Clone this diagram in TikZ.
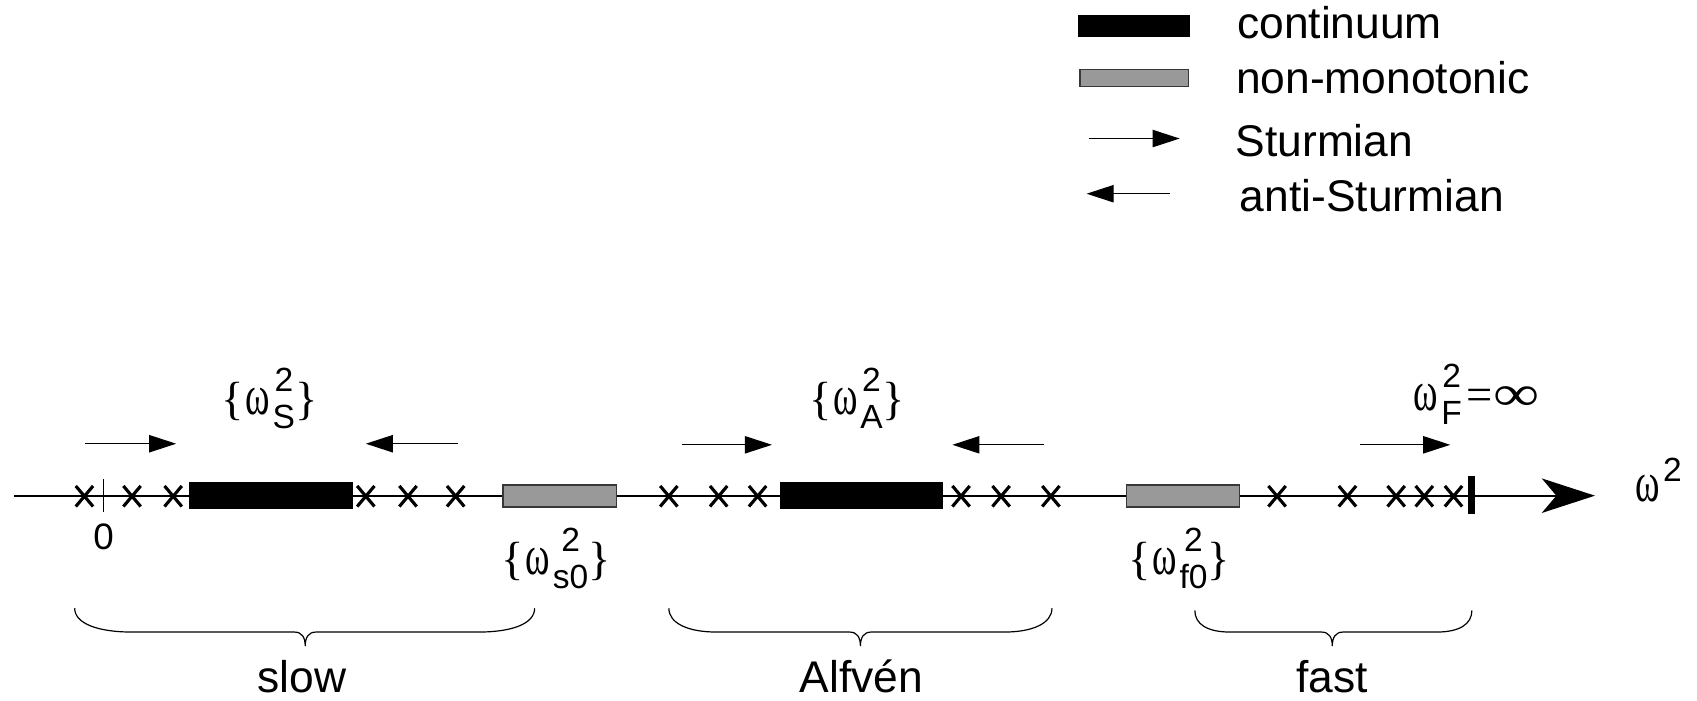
\documentclass[tikz,border=0pt]{standalone}
\usepackage{graphicx}
\usepackage{fontspec}
\setmainfont{Liberation Sans}
\newfontfamily\symf{Liberation Serif}
\usetikzlibrary{arrows.meta}
\newdimen\stkw
\newcommand{\scr}{\fontsize{31}{31}\selectfont}
\newcommand{\om}{\scalebox{0.66}[1]{\fontsize{52}{52}\selectfont\symf ω}}
\newcommand{\stk}[2]{\setbox0=\hbox{\scr #1}\setbox2=\hbox{\scr #2}%
\ifdim\wd0>\wd2 \stkw=\wd0 \else \stkw=\wd2 \fi
\hbox to \stkw{\rlap{\hbox to \stkw{\hss\raise21pt\box0\hss}}\hbox to \stkw{\hss\lower13pt\box2\hss}}}
\newcommand{\lb}{{\fontsize{43}{43}\selectfont\symf\{}}
\newcommand{\rb}{{\fontsize{43}{43}\selectfont\symf\}}}
\newcommand{\brl}[1]{\lb\kern1.5pt\om\kern2.5pt#1\rb}
\tikzset{
  txt/.style={font=\fontsize{41}{49}\selectfont, inner sep=0pt},
  lab/.style={inner sep=0pt, anchor=base},
  axisline/.style={line width=2pt},
  cross/.style={line width=2.9pt},
  cont/.style={fill=black, draw=black, line width=1pt},
  nonmono/.style={fill=black!40, draw=black!78, line width=1.3pt},
  sarrow/.style={line width=1.1pt, -{Triangle[length=25pt,width=16pt]}},
  bracel/.style={line width=1.1pt},
}
\begin{document}
\begin{tikzpicture}[x=1pt,y=-1pt]
\useasboundingbox (0,0) rectangle (1568,647);

% legend
\draw[cont] (997,14) rectangle (1099,34);
\draw[nonmono] (998,64) rectangle (1098,80);
\coordinate (ls1) at (1006,128); \coordinate (ls2) at (1090,128);
\coordinate (la1) at (1081,179); \coordinate (la2) at (1004,179);
\draw[sarrow] (ls1) -- (ls2);
\draw[sarrow] (la1) -- (la2);
\node[txt, anchor=base west] (tcont) at (1143,36) {continuum};
\node[txt, anchor=base west] (tnon) at (1142,86) {non-monotonic};
\node[txt, anchor=base west] (tstu) at (1141.5,145) {Sturmian};
\node[txt, anchor=base west] (tanti) at (1145.5,195) {anti-Sturmian};

% axis
\coordinate (ax0) at (13,458); \coordinate (ax1) at (1440,458);
\draw[axisline] (ax0) -- (ax1);
\fill (1473.7,458) -- (1424.5,442) -- (1438,458) -- (1424.5,474) -- cycle;
\draw[line width=1.5pt] (95.8,443) -- (95.8,473);
\fill (1356,440) rectangle (1362.5,475);

% crosses
\foreach \x in {78,122,160,338,377,421,618,664,700,888,925,971,1180,1245,1290,1316,1343}
  \draw[cross] (\x-8,449) -- (\x+8,468) (\x-8,468) -- (\x+8,449);

% bars
\draw[cont] (175.5,446) rectangle (326,470);
\draw[cont] (721,446) rectangle (871,470);
\draw[nonmono] (464.6,448) rectangle (569.6,468.5);
\draw[nonmono] (1041,448) rectangle (1145.5,468.5);

% direction arrows
\coordinate (a1s) at (78.5,410); \coordinate (a1e) at (162.8,410);
\coordinate (a2s) at (423,410); \coordinate (a2e) at (338,410);
\coordinate (a3s) at (629.7,411); \coordinate (a3e) at (713.3,411);
\coordinate (a4s) at (965,411); \coordinate (a4e) at (880,411);
\coordinate (a5s) at (1256.6,411); \coordinate (a5e) at (1340,411);
\foreach \i in {1,...,5} \draw[sarrow] (a\i s) -- (a\i e);

% labels
\node[lab] (ls) at (249,383) {\brl{\stk{2}{S}}};
\node[lab] (la) at (792,383) {\brl{\stk{2}{A}}};
\node[lab] (ls0) at (514,531) {\brl{\stk{2}{s0}}};
\node[lab] (lf0) at (1089.5,531) {\brl{\stk{2}{f0}}};
\node[lab, anchor=base west] (lF) at (1306,379) {\om\kern3pt\stk{2}{F}\kern4pt{\fontsize{43}{43}\selectfont\symf =}\kern1pt\scalebox{1.3}[1]{\fontsize{46}{46}\selectfont\symf ∞}};
\node[lab, anchor=base west] (lw) at (1511,463) {\om\kern3pt\raisebox{18pt}{\scr 2}};
\node[txt, anchor=base, font=\fontsize{34}{40}\selectfont] (zero) at (95.8,508) {0};

% braces
\draw[bracel] (69,562) .. controls (69,576) and (90,584) .. (122,584) -- (272,584)
  .. controls (279,584) and (282,589) .. (282,597)
  .. controls (282,589) and (285,584) .. (292,584) -- (442,584)
  .. controls (474,584) and (494,576) .. (494,562);
\draw[bracel] (618,562) .. controls (618,576) and (636,584) .. (662,584) -- (785,584)
  .. controls (792,584) and (795,589) .. (795,597)
  .. controls (795,589) and (798,584) .. (805,584) -- (928,584)
  .. controls (954,584) and (972,576) .. (972,562);
\draw[bracel] (1104,564) .. controls (1104,577) and (1116,584) .. (1136.5,584) -- (1221,584)
  .. controls (1228,584) and (1231,589) .. (1231,597)
  .. controls (1231,589) and (1234,584) .. (1241,584) -- (1327.5,584)
  .. controls (1348,584) and (1360,577) .. (1360,564);

\node[txt, anchor=base] (slow) at (279,640) {slow};
\node[txt, anchor=base] (alf) at (796,640) {Alfvén};
\node[txt, anchor=base] (fast) at (1231,640) {fast};
\end{tikzpicture}
\end{document}
